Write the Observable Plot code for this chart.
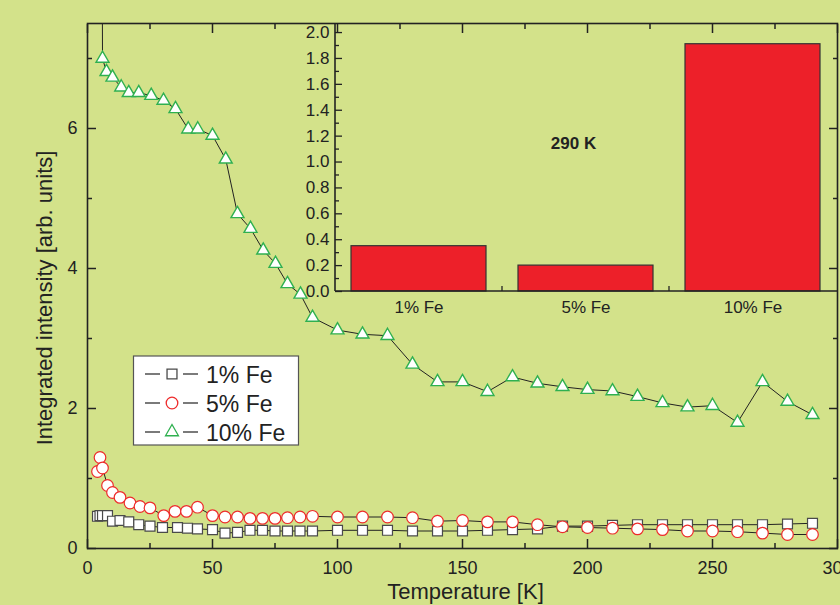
<!DOCTYPE html>
<html><head><meta charset="utf-8">
<script src="https://cdn.jsdelivr.net/npm/d3@7"></script>
<script src="https://cdn.jsdelivr.net/npm/@observablehq/plot@0.6"></script>
<style>
html,body{margin:0;padding:0;background:#d3e28a;}
#wrap{position:relative;width:840px;height:605px;overflow:hidden;}
#wrap svg{position:absolute;left:0;top:0;}
</style></head><body><div id="wrap"></div>
<script>
// ---- data ----
const temps1 = [4,5,6,8,10,13,16.5,20.5,25,30,36,40,44,50,55,60,65,70,75,80,85,90,100,110,120,130,140,150,160,170,180,190,200,210,220,230,240,250,260,270,280,290];
const int1   = [0.46,0.47,0.47,0.47,0.39,0.40,0.38,0.34,0.32,0.30,0.30,0.29,0.28,0.27,0.22,0.23,0.26,0.26,0.25,0.25,0.25,0.25,0.26,0.26,0.26,0.25,0.25,0.25,0.26,0.27,0.28,0.32,0.32,0.33,0.34,0.34,0.34,0.34,0.34,0.34,0.35,0.36];
const temps5 = [4,5,6,8,10,13,17,21,25,30.5,35,39.6,44,50,55,60,65,70,75,80,85,90,100,110,120,130,140,150,160,170,180,190,200,210,220,230,240,250,260,270,280,290];
const int5   = [1.10,1.30,1.15,0.90,0.80,0.73,0.65,0.60,0.58,0.47,0.53,0.53,0.59,0.47,0.45,0.45,0.43,0.43,0.43,0.44,0.45,0.46,0.45,0.45,0.45,0.44,0.39,0.40,0.38,0.38,0.34,0.31,0.30,0.29,0.28,0.27,0.25,0.25,0.24,0.22,0.20,0.20];
const temps10 = [5.8,6,7.6,10,13.5,16.5,20.5,25.5,30.4,35.2,40.3,44.1,50,55.3,60,65.2,70.3,75.2,80,85.2,90,100,110,120,130,140,150,160,170,180,190,200,210,220,230,240,250,260,270,280,290];
const int10   = [9.5,7.0,6.81,6.73,6.59,6.51,6.51,6.47,6.40,6.28,5.99,5.99,5.90,5.56,4.78,4.57,4.26,4.07,3.78,3.63,3.30,3.12,3.06,3.04,2.63,2.38,2.38,2.24,2.45,2.36,2.31,2.27,2.25,2.17,2.08,2.02,2.04,1.80,2.38,2.10,1.91];

const seriesNames = ["1% Fe", "5% Fe", "10% Fe"];
const barCats = ["1% Fe", "5% Fe", "10% Fe"];
const barVals = [0.35, 0.20, 1.91];
const insetLabel = "290 K";

const xMajor = [0,50,100,150,200,250,300];
const xMinor = [25,75,125,175,225,275];
const yMajor = [0,2,4,6];
const yMinor = [1,3,5,7];
const insetMajor = [0,0.2,0.4,0.6,0.8,1.0,1.2,1.4,1.6,1.8,2.0];
const insetMinor = [0.1,0.3,0.5,0.7,0.9,1.1,1.3,1.5,1.7,1.9];
const xTitle = "Temperature [K]";
const yTitle = "Integrated intensity [arb. units]";

// ---- styling ----
const W = 840, H = 605;
const ink = "#222";
const font = '"Liberation Sans", Arial, Helvetica, sans-serif';
const colSq = "#4a4a4a", colCi = "#ee2b2b", colTr = "#2fb050";
const rSq = 5.6, rCi = 5.8, rTr = 4.8;

const rows = (ts, vs) => ts.map((t, i) => ({t, v: vs[i]}));
const d1 = rows(temps1, int1), d5 = rows(temps5, int5), d10 = rows(temps10, int10);
const noText = () => "";

const main = Plot.plot({
  width: W, height: H,
  marginLeft: 87, marginRight: 3, marginTop: 23, marginBottom: 57,
  style: {background: "transparent", fontFamily: font, color: ink},
  x: {domain: [0, 300], label: null},
  y: {domain: [0, 7.5], label: null},
  marks: [
    Plot.line(d1, {x: "t", y: "v", stroke: ink, strokeWidth: 1}),
    Plot.dot(d1, {x: "t", y: "v", symbol: "square", r: rSq, fill: "white", stroke: colSq, strokeWidth: 1.2}),
    Plot.line(d5, {x: "t", y: "v", stroke: ink, strokeWidth: 1}),
    Plot.dot(d5, {x: "t", y: "v", symbol: "circle", r: rCi, fill: "white", stroke: colCi, strokeWidth: 1.2}),
    Plot.line(d10, {x: "t", y: "v", stroke: ink, strokeWidth: 1, clip: true}),
    Plot.dot(d10, {x: "t", y: "v", symbol: "triangle", r: rTr, fill: "white", stroke: colTr, strokeWidth: 1.4, clip: true}),
    Plot.axisX({ticks: xMajor, tickSize: -9, tickPadding: 22, fontSize: 18, strokeWidth: 1.5, label: null}),
    Plot.axisX({ticks: xMinor, tickSize: -5, tickFormat: noText, strokeWidth: 1.5, label: null}),
    Plot.axisX({anchor: "top", ticks: xMajor, tickSize: -9, tickFormat: noText, strokeWidth: 1.5, label: null}),
    Plot.axisX({anchor: "top", ticks: xMinor, tickSize: -5, tickFormat: noText, strokeWidth: 1.5, label: null}),
    Plot.axisY({ticks: yMajor, tickSize: -9, tickPadding: 19, fontSize: 18, strokeWidth: 1.5, label: null}),
    Plot.axisY({ticks: yMinor, tickSize: -5, tickFormat: noText, strokeWidth: 1.5, label: null}),
    Plot.axisY({anchor: "right", ticks: yMajor, tickSize: -9, tickFormat: noText, strokeWidth: 1.5, label: null}),
    Plot.axisY({anchor: "right", ticks: yMinor, tickSize: -5, tickFormat: noText, strokeWidth: 1.5, label: null}),
    Plot.frame({stroke: ink, strokeWidth: 1.6}),
    Plot.text([xTitle], {text: d => d, frameAnchor: "bottom", textAnchor: "middle", lineAnchor: "middle", dx: 3, dy: 43, fontSize: 22, fill: ink}),
    Plot.text([yTitle], {text: d => d, frameAnchor: "left", textAnchor: "middle", lineAnchor: "middle", rotate: -90, dx: -43, dy: 12, fontSize: 22, fill: ink})
  ]
});

const barRows = barCats.map((c, i) => ({cat: c, val: barVals[i]}));

const inset = Plot.plot({
  width: W, height: H,
  marginLeft: 335, marginRight: 3, marginTop: 23, marginBottom: 314,
  style: {background: "transparent", fontFamily: font, color: ink},
  x: {domain: barCats, paddingInner: 0.19, paddingOuter: 0.095, label: null},
  y: {domain: [0, 2.07], label: null},
  marks: [
    Plot.barY(barRows, {x: "cat", y: "val", fill: "#ed2029", stroke: "#333", strokeWidth: 1.2}),
    Plot.axisY({ticks: insetMajor, tickSize: -7, tickPadding: 13, tickFormat: d3.format(".1f"), fontSize: 17, strokeWidth: 1.3, label: null}),
    Plot.axisY({ticks: insetMinor, tickSize: -4, tickFormat: noText, strokeWidth: 1.3, label: null}),
    Plot.axisX({tickSize: 0, tickPadding: 9, fontSize: 17, label: null}),
    (index, scales, values, dims) => {
      const x = scales.x, y = scales.y;
      const g = d3.create("svg:g").attr("stroke", ink).attr("stroke-width", 1.6).attr("fill", "none");
      const x0 = dims.marginLeft, x1 = dims.width - dims.marginRight;
      const y0 = y(0), yTop = dims.marginTop;
      g.append("line").attr("x1", x0).attr("x2", x1).attr("y1", y0).attr("y2", y0);
      g.append("line").attr("x1", x0).attr("x2", x0).attr("y1", yTop).attr("y2", y0);
      const gap = (x.step() - x.bandwidth()) / 2;
      barCats.slice(1).forEach(c => {
        const bx = x(c) - gap;
        g.append("line").attr("x1", bx).attr("x2", bx).attr("y1", y0).attr("y2", y0 - 5).attr("stroke-width", 1.3);
      });
      return g.node();
    },
    Plot.text([insetLabel], {text: d => d, frameAnchor: "middle", dx: -13, dy: -14, fontSize: 17, fontWeight: "bold", fill: ink})
  ]
});

const wrap = document.getElementById("wrap");
wrap.appendChild(main);
wrap.appendChild(inset);

// ---- legend ----
const lg = d3.select(wrap).append("svg")
  .attr("width", 170).attr("height", 94)
  .style("left", "132px").style("top", "354px");
lg.append("rect").attr("x", 1.5).attr("y", 2).attr("width", 165).attr("height", 89)
  .attr("fill", "white").attr("stroke", "#555").attr("stroke-width", 1.2);
const legendDefs = [
  {name: seriesNames[0], sym: d3.symbolSquare, r: rSq, stroke: colSq},
  {name: seriesNames[1], sym: d3.symbolCircle, r: rCi, stroke: colCi},
  {name: seriesNames[2], sym: d3.symbolTriangle, r: rTr, stroke: colTr}
];
legendDefs.forEach((d, i) => {
  const cy = 20 + i * 29;
  const g = lg.append("g");
  g.append("line").attr("x1", 13).attr("x2", 28).attr("y1", cy).attr("y2", cy).attr("stroke", ink).attr("stroke-width", 1.2);
  g.append("line").attr("x1", 51).attr("x2", 66).attr("y1", cy).attr("y2", cy).attr("stroke", ink).attr("stroke-width", 1.2);
  g.append("path").attr("transform", `translate(40,${cy})`)
    .attr("d", d3.symbol(d.sym, Math.PI * d.r * d.r)())
    .attr("fill", "white").attr("stroke", d.stroke).attr("stroke-width", 1.3);
  g.append("text").attr("x", 74).attr("y", cy + 8.5).text(d.name)
    .attr("font-family", font).attr("font-size", 23).attr("fill", ink);
});
</script>
</body></html>
